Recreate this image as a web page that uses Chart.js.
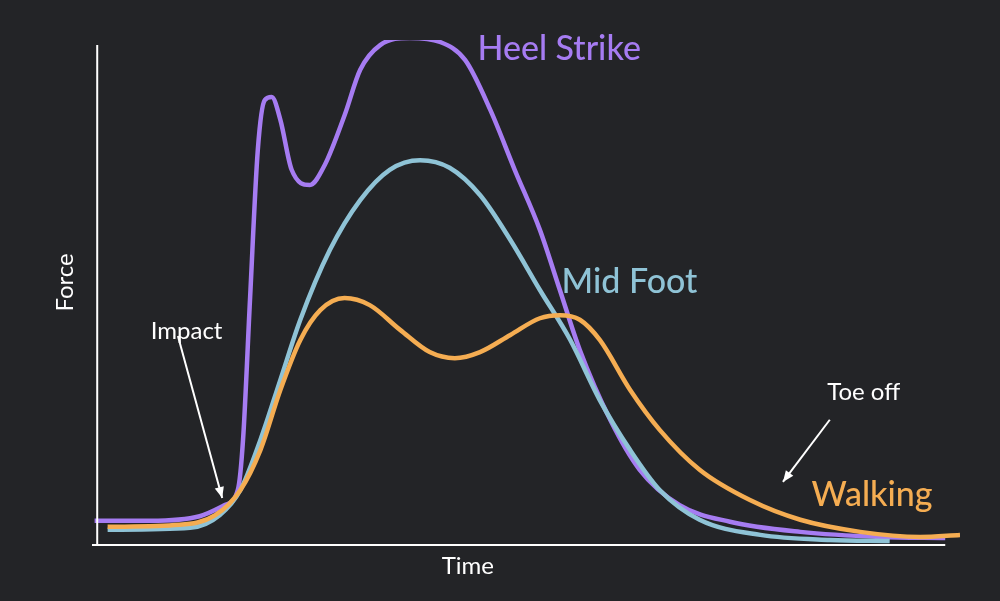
<!DOCTYPE html>
<html><head><meta charset="utf-8">
<script src="https://cdn.jsdelivr.net/npm/chart.js@4"></script>
<style>html,body{margin:0;padding:0;background:#232427;}canvas{display:block;}</style>
</head><body>
<canvas id="c" width="1000" height="601"></canvas>
<script>
const heelX=[0.3,6.7,12.4,15.3,16.8,17.4,18.2,19.1,19.9,20.7,21.7,23.0,25.1,26.8,29.1,30.9,33.2,36.6,40.1,43.0,45.9,48.7,51.6,53.9,56.2,59.7,63.1,67.7,73.5,81.6,90.8,98.3];
const heelY=[4.8,4.8,5.7,7.9,10.9,20.8,48.5,78.2,88.1,88.7,84.2,74.3,71.3,75.2,85.1,94.1,99.0,100.4,99.6,96.0,86.1,74.3,62.4,50.5,38.6,24.8,14.9,7.9,4.6,2.6,1.6,1.4];
const midX=[1.8,11.3,14.7,17.1,19.4,21.7,24.0,27.4,30.9,34.3,37.8,41.2,44.7,48.2,51.6,55.1,58.5,62.0,65.4,70.0,77.0,85.0,91.9];
const midY=[3.0,3.4,5.9,10.9,20.8,32.7,44.6,58.4,68.3,74.3,76.2,74.7,69.3,60.4,50.5,40.6,28.7,18.8,10.9,5.0,2.0,1.0,0.8];
const walkX=[1.8,10.1,14.2,17.1,19.4,21.7,24.0,26.3,29.1,32.0,35.5,38.9,41.8,44.7,48.2,51.6,53.9,56.2,58.5,62.0,65.4,70.0,75.8,81.6,88.5,95.4,100];
const walkY=[3.6,4.0,5.9,10.9,18.8,30.7,40.6,46.5,48.9,47.5,42.6,38.2,37.0,38.2,41.6,44.9,45.5,44.6,40.6,30.7,22.8,14.9,8.9,5.0,2.6,1.6,2.0];
const seriesNames=['Heel Strike','Mid Foot','Walking'];
const colors=['#a67cf2','#8fc3d6','#f5ad52'];
const pts=(xs,ys)=>xs.map((x,i)=>({x:x,y:ys[i]}));
const FONT='Lato, "Open Sans", sans-serif';
const deco={id:'deco',afterDatasetsDraw(ch){
 const c=ch.ctx,xs=ch.scales.x,ys=ch.scales.y;
 const X=v=>xs.getPixelForValue(v),Y=v=>ys.getPixelForValue(v);
 c.save();
 c.strokeStyle='#fff';c.lineWidth=2;
 c.beginPath();c.moveTo(X(0.6),Y(99));c.lineTo(X(0.6),Y(0));c.stroke();
 c.beginPath();c.moveTo(X(0),Y(0));c.lineTo(X(98.3),Y(0));c.stroke();
 c.font='500 34px '+FONT;c.textBaseline='middle';c.textAlign='left';
 c.fillStyle=colors[0];c.fillText(seriesNames[0],X(44.4),Y(98.2));
 c.fillStyle=colors[1];c.fillText(seriesNames[1],X(54.1),Y(52));
 c.fillStyle=colors[2];c.fillText(seriesNames[2],X(82.9),Y(9.9));
 c.fillStyle='#fff';c.font='24px '+FONT;c.textAlign='center';
 c.fillText('Impact',X(10.9),Y(42.4));
 c.fillText('Toe off',X(88.9),Y(30.3));
 c.fillText('Time',X(43.3),Y(-4.2));
 c.save();c.translate(X(-3.1),Y(52));c.rotate(-Math.PI/2);c.fillText('Force',0,0);c.restore();
 const arrow=(x1,y1,x2,y2)=>{c.beginPath();c.moveTo(x1,y1);c.lineTo(x2,y2);c.stroke();
  const a=Math.atan2(y2-y1,x2-x1);c.beginPath();c.moveTo(x2,y2);
  c.lineTo(x2-12*Math.cos(a-0.4),y2-12*Math.sin(a-0.4));c.lineTo(x2-12*Math.cos(a+0.4),y2-12*Math.sin(a+0.4));c.closePath();c.fill();};
 c.lineWidth=2;
 arrow(X(9.9),Y(41.4),X(15.0),Y(9.3));
 arrow(X(85.0),Y(24.8),X(79.6),Y(12.5));
 c.restore();}};
new Chart(document.getElementById('c'),{type:'line',
 data:{datasets:[
  {label:seriesNames[2],data:pts(walkX,walkY),borderColor:colors[2]},
  {label:seriesNames[1],data:pts(midX,midY),borderColor:colors[1]},
  {label:seriesNames[0],data:pts(heelX,heelY),borderColor:colors[0]}
 ].map(d=>Object.assign(d,{borderWidth:4.5,pointRadius:0,tension:0.4,cubicInterpolationMode:'monotone',fill:false}))},
 options:{responsive:false,animation:false,
  layout:{padding:{left:92,right:40,top:40,bottom:56}},
  plugins:{legend:{display:false},tooltip:{enabled:false}},
  scales:{x:{type:'linear',min:0,max:100,display:false},y:{min:0,max:100,display:false}}},
 plugins:[deco]});
</script>
</body></html>
